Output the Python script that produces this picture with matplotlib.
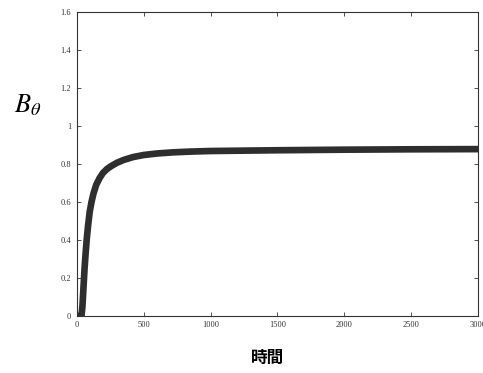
import matplotlib
matplotlib.use('Agg')
import matplotlib.pyplot as plt

plt.rcParams['font.family'] = ['Noto Sans CJK JP', 'DejaVu Sans']
plt.rcParams['mathtext.fontset'] = 'stix'

# time series of B_theta
t_vals = [0, 35, 42, 50, 58, 66, 75, 85, 97, 110, 125, 145, 170, 195, 225,
          260, 300, 350, 420, 500, 600, 720, 850, 1000, 1250, 1500, 2000,
          2500, 3000]
b_vals = [0, 0, 0.05, 0.15, 0.25, 0.33, 0.41, 0.48, 0.55, 0.6, 0.645, 0.69,
          0.725, 0.752, 0.773, 0.79, 0.806, 0.821, 0.836, 0.847, 0.855,
          0.861, 0.865, 0.868, 0.870, 0.872, 0.875, 0.877, 0.878]

x_ticks = [0, 500, 1000, 1500, 2000, 2500, 3000]
y_ticks = [0, 0.2, 0.4, 0.6, 0.8, 1.0, 1.2, 1.4, 1.6]
y_tick_labels = ['0', '0.2', '0.4', '0.6', '0.8', '1', '1.2', '1.4', '1.6']

fig = plt.figure(figsize=(4.83, 3.73), dpi=100, facecolor='white')
ax = fig.add_axes([0.159, 0.153, 0.831, 0.815])

ax.plot(t_vals, b_vals, color='#2e2e2e', lw=4.8, solid_capstyle='butt',
        solid_joinstyle='round')

ax.set_xlim(0, 3000)
ax.set_ylim(0, 1.6)
ax.set_xticks(x_ticks)
ax.set_xticklabels([str(v) for v in x_ticks], family='Liberation Serif', fontsize=6)
ax.set_yticks(y_ticks)
ax.set_yticklabels(y_tick_labels, family='Liberation Serif', fontsize=6)
ax.tick_params(direction='in', top=True, right=True, length=3, width=0.6,
               colors='#333333', pad=4)
for s in ax.spines.values():
    s.set_linewidth(0.8)
    s.set_color('#333333')

fig.text(0.058, 0.718, r'$B_\theta$', fontsize=19, ha='center', va='center')
fig.text(0.555, 0.04, '時間', fontsize=12, fontweight='bold', ha='center', va='center')

fig.savefig('out.png', dpi=100, facecolor='white')
